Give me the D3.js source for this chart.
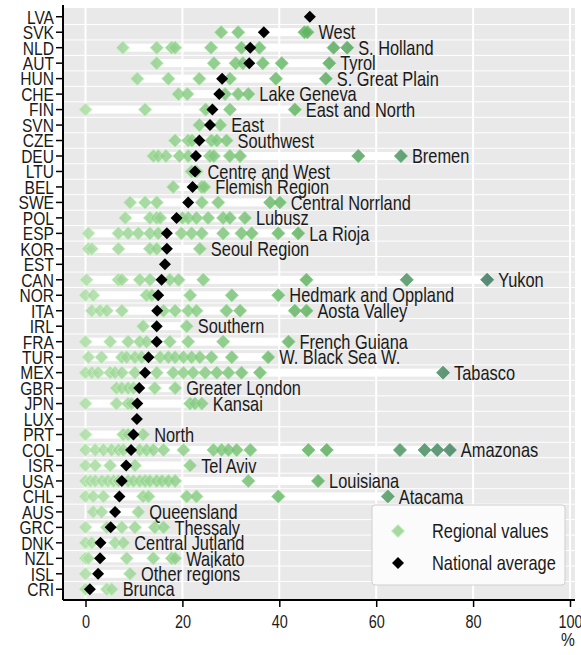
<!DOCTYPE html>
<html>
<head>
<meta charset="utf-8">
<script src="https://cdn.jsdelivr.net/npm/d3@7"></script>
<style>
  body { margin: 0; background: #fff; }
  svg text { font-family: "Liberation Sans", Arial, sans-serif; fill: #1a1a1a; }
</style>
</head>
<body>
<svg id="chart"></svg>
<script>
// Data
var countries = ["LVA","SVK","NLD","AUT","HUN","CHE","FIN","SVN","CZE","DEU","LTU","BEL","SWE","POL",
  "ESP","KOR","EST","CAN","NOR","ITA","IRL","FRA","TUR","MEX","GBR","JPN","LUX","PRT","COL","ISR",
  "USA","CHL","AUS","GRC","DNK","NZL","ISL","CRI"];

var nationalAvg = [46.3, 36.8, 34.0, 33.8, 28.2, 27.6, 26.2, 25.7, 23.5, 22.8, 22.6, 22.1, 21.2, 18.8,
  16.8, 16.8, 16.4, 15.7, 15.0, 14.8, 14.7, 14.7, 13.0, 12.3, 11.1, 10.7, 10.6, 9.9, 9.4, 8.4,
  7.5, 7.0, 6.1, 5.2, 3.1, 3.0, 2.6, 0.9];

var regionalValues = [
  [],
  [28.0, 31.5, 45.2, 45.8],
  [7.7, 14.7, 17.8, 18.5, 25.9, 32.2, 35.9, 51.2, 54.0],
  [14.7, 26.5, 31.0, 32.5, 36.6, 40.5, 50.3],
  [10.7, 17.1, 23.5, 29.8, 39.3, 49.6],
  [19.2, 21.0, 28.8, 31.5, 33.6],
  [0.0, 12.3, 24.8, 29.8, 43.2],
  [23.5, 27.8],
  [18.5, 21.2, 22.0, 26.0, 27.1, 29.1],
  [14.0, 15.0, 16.6, 19.4, 21.2, 25.7, 26.5, 29.8, 31.9, 56.3, 65.1],
  [21.9, 22.9],
  [18.1, 24.0, 24.5],
  [9.2, 12.3, 14.7, 24.0, 27.4, 38.1, 40.1],
  [8.2, 13.3, 14.7, 15.4, 20.0, 21.2, 22.9, 25.3, 28.4, 29.8, 32.9],
  [0.6, 6.8, 8.8, 10.9, 13.3, 15.0, 19.8, 21.9, 24.0, 28.4, 32.2, 34.3, 39.8, 43.9],
  [0.6, 1.3, 6.8, 13.3, 14.7, 23.6],
  [],
  [0.2, 6.8, 7.5, 11.2, 13.3, 17.4, 19.2, 24.3, 45.6, 66.3, 82.9],
  [0.0, 1.6, 12.6, 13.7, 21.6, 30.2, 39.8],
  [1.3, 3.0, 4.4, 7.5, 16.1, 18.5, 21.2, 22.9, 29.1, 31.9, 43.2, 45.6],
  [11.9, 20.9],
  [0.0, 5.1, 8.8, 11.2, 12.6, 17.4, 21.2, 28.4, 41.9],
  [0.6, 3.3, 7.5, 8.5, 10.2, 11.6, 15.4, 17.1, 18.5, 20.2, 21.9, 23.6, 26.0, 30.2, 37.7],
  [0.0, 1.3, 2.6, 5.1, 6.1, 7.5, 10.2, 14.7, 18.1, 20.2, 22.2, 24.7, 27.1, 29.5, 32.2, 36.0, 73.8],
  [6.4, 7.5, 8.8, 9.9, 14.3, 18.5],
  [0.0, 6.4, 8.8, 9.5, 21.6, 22.6, 24.0],
  [],
  [0.0, 7.8, 8.8, 11.9],
  [0.0, 2.0, 3.7, 5.4, 6.8, 7.8, 11.2, 12.6, 14.0, 16.1, 20.2, 26.4, 28.1, 29.5, 31.2, 34.0, 46.0, 49.8, 64.9, 70.0, 72.6, 75.2],
  [0.0, 2.0, 5.1, 10.2, 21.6],
  [0.0, 1.0, 2.0, 3.4, 4.6, 5.8, 6.8, 8.8, 9.9, 11.2, 12.3, 13.3, 14.7, 15.8, 17.1, 18.5, 33.6, 48.0],
  [0.0, 1.6, 3.7, 11.9, 13.0, 20.9, 22.9, 39.8, 62.4],
  [1.6, 3.3, 10.9],
  [0.0, 4.4, 7.5, 10.2, 14.3, 16.1],
  [0.0, 1.3, 6.1, 7.8],
  [0.0, 0.6, 8.5, 14.0, 17.8, 18.5],
  [0.0, 9.2],
  [0.0, 4.4, 5.4]
];

var topRegion = ["", "West", "S. Holland", "Tyrol", "S. Great Plain", "Lake Geneva", "East and North",
  "East", "Southwest", "Bremen", "Centre and West", "Flemish Region", "Central Norrland", "Lubusz",
  "La Rioja", "Seoul Region", "", "Yukon", "Hedmark and Oppland", "Aosta Valley", "Southern",
  "French Guiana", "W. Black Sea W.", "Tabasco", "Greater London", "Kansai", "", "North", "Amazonas",
  "Tel Aviv", "Louisiana", "Atacama", "Queensland", "Thessaly", "Central Jutland", "Waikato",
  "Other regions", "Brunca"];

var xTicks = [0, 20, 40, 60, 80, 100];

// Layout
var width = 581, height = 655;
var plot = { left: 63, right: 575, top: 8, bottom: 600 };
var narrow = 0.82; // no narrow font installed, squeeze a regular one

var svg = d3.select('#chart')
    .attr('width', width)
    .attr('height', height);

var x = d3.scaleLinear().domain([0, 100]).range([85.5, 570]);
var y = d3.scaleBand().domain(countries).range([plot.top + 1, plot.bottom - 3]);
var rowC = function (c) { return y(c) + y.bandwidth() / 2; };

var color = d3.scaleLinear()
    .domain([0, 20, 45, 85])
    .range(["#acdaa5", "#8fcd8a", "#62b262", "#3a7662"]);

var diamond = function (r) { return "M0," + (-r) + "L" + r + ",0L0," + r + "L" + (-r) + ",0Z"; };

var rows = countries.map(function (c, i) {
    var all = regionalValues[i].concat([nationalAvg[i]]);
    return { country: c, avg: nationalAvg[i], regions: regionalValues[i], label: topRegion[i],
             min: d3.min(all), max: d3.max(all) };
});

// background
svg.append('rect')
    .attr('x', plot.left).attr('y', plot.top)
    .attr('width', plot.right - plot.left).attr('height', plot.bottom - plot.top)
    .attr('fill', '#e9e9e9');

// row separators
svg.append('g').selectAll('line')
    .data(countries.slice(1))
    .enter().append('line')
    .attr('x1', plot.left).attr('x2', plot.right)
    .attr('y1', function (d) { return y(d); }).attr('y2', function (d) { return y(d); })
    .attr('stroke', '#fff').attr('stroke-width', 1);

// vertical grid
svg.append('g').selectAll('line')
    .data(xTicks)
    .enter().append('line')
    .attr('x1', function (d) { return x(d); }).attr('x2', function (d) { return x(d); })
    .attr('y1', plot.top).attr('y2', plot.bottom)
    .attr('stroke', '#fff').attr('stroke-width', 2);

// range bands
svg.append('g').selectAll('rect')
    .data(rows.filter(function (d) { return d.regions.length; }))
    .enter().append('rect')
    .attr('x', function (d) { return x(d.min); })
    .attr('width', function (d) { return x(d.max) - x(d.min); })
    .attr('y', function (d) { return rowC(d.country) - 4; })
    .attr('height', 8)
    .attr('fill', '#fff');

// regional diamonds
var pts = [];
rows.forEach(function (r) { r.regions.forEach(function (v) { pts.push({ country: r.country, v: v }); }); });

svg.append('g').selectAll('path')
    .data(pts)
    .enter().append('path')
    .attr('d', diamond(6.5))
    .attr('transform', function (d) { return 'translate(' + x(d.v) + ',' + rowC(d.country) + ')'; })
    .attr('fill', function (d) { return color(d.v); })
    .attr('fill-opacity', 0.85)
    .attr('stroke', function (d) { return d3.color(color(d.v)).brighter(0.4); })
    .attr('stroke-opacity', 0.8)
    .attr('stroke-width', 1);

// national average
svg.append('g').selectAll('path')
    .data(rows)
    .enter().append('path')
    .attr('d', diamond(6))
    .attr('transform', function (d) { return 'translate(' + x(d.avg) + ',' + rowC(d.country) + ')'; })
    .attr('fill', '#000');

// region labels
svg.append('g').selectAll('text')
    .data(rows.filter(function (d) { return d.label; }))
    .enter().append('text')
    .attr('transform', function (d) {
        return 'translate(' + (x(d.max) + 11) + ',' + rowC(d.country) + ') scale(' + narrow + ',1)';
    })
    .attr('dy', '0.36em')
    .attr('font-size', 20)
    .text(function (d) { return d.label; });

// axes
var xAxis = svg.append('g')
    .attr('transform', 'translate(0,' + plot.bottom + ')')
    .call(d3.axisBottom(x).tickValues(xTicks).tickSize(7).tickPadding(8));
xAxis.select('.domain').attr('d', 'M' + plot.left + ',0H' + plot.right).attr('stroke-width', 2);
xAxis.selectAll('.tick text')
    .attr('font-size', 19)
    .style('font-family', null)
    .attr('transform', 'scale(0.76,1)');

var yAxis = svg.append('g')
    .attr('transform', 'translate(' + plot.left + ',0)')
    .call(d3.axisLeft(y).tickSize(7).tickPadding(0));
yAxis.select('.domain').attr('d', 'M0,' + (plot.top - 3) + 'V' + plot.bottom).attr('stroke-width', 2);
yAxis.selectAll('.tick text')
    .attr('font-size', 19)
    .attr('dy', '0.36em')
    .style('font-family', null)
    .attr('transform', 'translate(-9,0) scale(' + narrow + ',1)')
    .attr('x', 0);
svg.selectAll('.tick line').attr('stroke-width', 1.5);

svg.append('text')
    .attr('transform', 'translate(568,646) scale(' + narrow + ',1)')
    .attr('text-anchor', 'middle')
    .attr('font-size', 19)
    .text('%');

// legend
var lg = svg.append('g').attr('transform', 'translate(372,505)');
lg.append('rect')
    .attr('width', 193).attr('height', 80).attr('rx', 3)
    .attr('fill', '#fbfbfb').attr('stroke', '#cfcfcf');
lg.append('path').attr('d', diamond(6.5)).attr('transform', 'translate(26,26)')
    .attr('fill', color(3)).attr('stroke', d3.color(color(3)).brighter(0.4));
lg.append('path').attr('d', diamond(6)).attr('transform', 'translate(26,58)').attr('fill', '#000');
lg.append('text').attr('transform', 'translate(60,26) scale(' + narrow + ',1)')
    .attr('dy', '0.36em').attr('font-size', 20).text('Regional values');
lg.append('text').attr('transform', 'translate(60,58) scale(' + narrow + ',1)')
    .attr('dy', '0.36em').attr('font-size', 20).text('National average');
</script>
</body>
</html>
